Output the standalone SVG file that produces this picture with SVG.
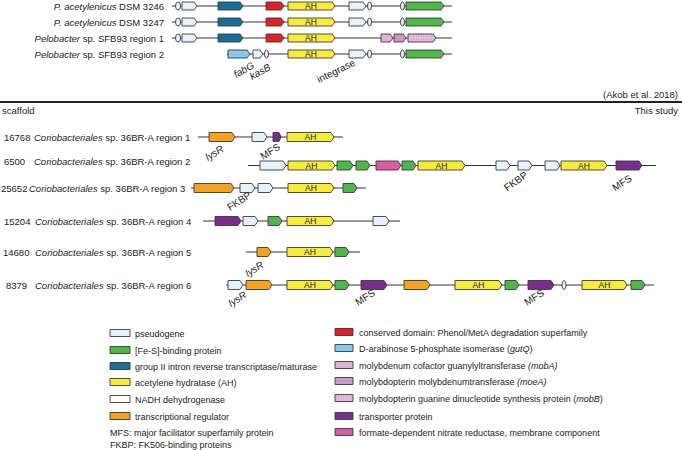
<svg xmlns="http://www.w3.org/2000/svg" width="682" height="450" viewBox="0 0 682 450">
<style>
text{font-family:"Liberation Sans",Arial,sans-serif;fill:#222}
.t{font-size:9.5px}
.it{font-style:italic}
.gl{font-size:10px}
.lg{font-size:9px}
.ahl{font-size:8.5px;text-anchor:middle}
.g{stroke:#3a3a3a;stroke-width:0.9;stroke-linejoin:round}
.bb{stroke:#333;stroke-width:1;fill:none}
.ps{fill:#e4f2fb}.fe{fill:#4db848}.bl{fill:#176f99}.ah{fill:#f8ec3b}.or{fill:#f5a21e}
.rd{fill:#e31e25}.lb{fill:#80cbee}.pu{fill:#7b2d8f}.mg{fill:#dc5ba6}.ma{fill:#ddb4d9}
.mo{fill:url(#stripe)}.mb{fill:url(#dots)}.nd{fill:#fff}
</style>
<defs>
<pattern id="stripe" width="4" height="2.5" patternUnits="userSpaceOnUse"><rect width="4" height="2.5" fill="#d8a9d4"/><line x1="0" y1="0.6" x2="4" y2="0.6" stroke="#9b5f9a" stroke-width="0.6"/></pattern>
<pattern id="dots" width="2.5" height="2.5" patternUnits="userSpaceOnUse"><rect width="2.5" height="2.5" fill="#e8bde3"/><circle cx="1.25" cy="1.25" r="0.45" fill="#a872a6"/></pattern>
</defs>

<!-- Published reference loci -->
<g id="ref-row1" transform="translate(0,6)">
<text class="t" x="164" y="3.5" text-anchor="end"><tspan class="it">P. acetylenicus</tspan> DSM 3246</text>
<line class="bb" x1="172" y1="0" x2="452" y2="0"/>
<ellipse class="g ps" cx="178" cy="0" rx="2.5" ry="4"/>
<polygon class="g ps" points="182,-4 194,-4 197,0 194,4 182,4"/>
<polygon class="g bl" points="218,-4 240,-4 243,0 240,4 218,4"/>
<polygon class="g rd" points="266,-4 281,-4 284,0 281,4 266,4"/>
<polygon class="g ah" points="288,-4 332,-4 335,0 332,4 288,4"/><text class="ahl" x="311" y="3">AH</text>
<polygon class="g ps" points="349,-4 363,-4 366,0 363,4 349,4"/>
<ellipse class="g ps" cx="369.5" cy="0" rx="2" ry="4"/>
<ellipse class="g ps" cx="402.5" cy="0" rx="2" ry="4"/>
<polygon class="g fe" points="406,-4 441,-4 444,0 441,4 406,4"/>
</g>
<g id="ref-row2" transform="translate(0,22)">
<text class="t" x="164" y="3.5" text-anchor="end"><tspan class="it">P. acetylenicus</tspan> DSM 3247</text>
<line class="bb" x1="172" y1="0" x2="452" y2="0"/>
<ellipse class="g ps" cx="178" cy="0" rx="2.5" ry="4"/>
<polygon class="g ps" points="182,-4 194,-4 197,0 194,4 182,4"/>
<polygon class="g bl" points="218,-4 240,-4 243,0 240,4 218,4"/>
<polygon class="g rd" points="266,-4 281,-4 284,0 281,4 266,4"/>
<polygon class="g ah" points="288,-4 332,-4 335,0 332,4 288,4"/><text class="ahl" x="311" y="3">AH</text>
<polygon class="g ps" points="349,-4 363,-4 366,0 363,4 349,4"/>
<ellipse class="g ps" cx="369.5" cy="0" rx="2" ry="4"/>
<ellipse class="g ps" cx="402.5" cy="0" rx="2" ry="4"/>
<polygon class="g fe" points="406,-4 441,-4 444,0 441,4 406,4"/>
</g>
<g id="ref-row3" transform="translate(0,38)">
<text class="t" x="164" y="3.5" text-anchor="end"><tspan class="it">Pelobacter</tspan> sp. SFB93 region 1</text>
<line class="bb" x1="172" y1="0" x2="452" y2="0"/>
<ellipse class="g ps" cx="178" cy="0" rx="2.5" ry="4"/>
<polygon class="g ps" points="182,-4 194,-4 197,0 194,4 182,4"/>
<polygon class="g bl" points="218,-4 240,-4 243,0 240,4 218,4"/>
<polygon class="g rd" points="266,-4 281,-4 284,0 281,4 266,4"/>
<polygon class="g ah" points="288,-4 332,-4 335,0 332,4 288,4"/><text class="ahl" x="311" y="3">AH</text>
<polygon class="g ma" points="381,-4 390,-4 393,0 390,4 381,4"/>
<polygon class="g mo" points="394,-4 403,-4 406,0 403,4 394,4"/>
<polygon class="g mb" points="408,-4 433,-4 436,0 433,4 408,4"/>
</g>
<g id="ref-row4" transform="translate(0,54)">
<text class="t" x="164" y="3.5" text-anchor="end"><tspan class="it">Pelobacter</tspan> sp. SFB93 region 2</text>
<line class="bb" x1="227" y1="0" x2="452" y2="0"/>
<polygon class="g lb" points="228,-4 247,-4 250,0 247,4 228,4"/>
<polygon class="g ps" points="253,-4 260,-4 263,0 260,4 253,4"/>
<ellipse class="g ps" cx="266.5" cy="0" rx="2" ry="4"/>
<polygon class="g ah" points="288,-4 332,-4 335,0 332,4 288,4"/><text class="ahl" x="311" y="3">AH</text>
<polygon class="g ps" points="349,-4 363,-4 366,0 363,4 349,4"/>
<ellipse class="g ps" cx="369.5" cy="0" rx="2" ry="4"/>
<ellipse class="g ps" cx="402.5" cy="0" rx="2" ry="4"/>
<polygon class="g fe" points="406,-4 441,-4 444,0 441,4 406,4"/>
<text class="gl it" transform="translate(236,24) rotate(-29)">fabG</text>
<text class="gl it" transform="translate(252,26) rotate(-29)">kasB</text>
<text class="gl" transform="translate(319,29) rotate(-26)">integrase</text>
</g>

<g id="divider">
<text class="t" x="678" y="97.5" text-anchor="end">(Akob et al. 2018)</text>
<line x1="0" y1="102" x2="682" y2="102" stroke="#222" stroke-width="1.8"/>
<text class="t" x="2" y="113.5">scaffold</text>
<text class="t" x="678" y="113.5" text-anchor="end">This study</text>
</g>

<!-- This study -->
<g id="region1" transform="translate(0,137)">
<text class="t" x="4" y="3.5">16768</text>
<text class="t" x="34" y="3.5"><tspan class="it">Coriobacteriales</tspan> sp. 36BR-A region 1</text>
<line class="bb" x1="198" y1="0" x2="343" y2="0"/>
<polygon class="g or" points="209,-4.5 232,-4.5 235,0 232,4.5 209,4.5"/>
<polygon class="g ps" points="252,-4.5 264,-4.5 267,0 264,4.5 252,4.5"/>
<polygon class="g pu" points="273,-4.5 279,-4.5 281,0 279,4.5 273,4.5"/>
<polygon class="g ah" points="287,-4.5 331,-4.5 334,0 331,4.5 287,4.5"/><text class="ahl" x="310.5" y="3">AH</text>
<text class="gl it" transform="translate(208,24) rotate(-32)">lysR</text>
<text class="gl" transform="translate(263,23) rotate(-32)">MFS</text>
</g>
<g id="region2" transform="translate(0,165.5)">
<text class="t" x="4" y="-1">6500</text>
<text class="t" x="34" y="-1"><tspan class="it">Coriobacteriales</tspan> sp. 36BR-A region 2</text>
<line class="bb" x1="248" y1="0" x2="656" y2="0"/>
<polygon class="g ps" points="260,-4.5 283,-4.5 286,0 283,4.5 260,4.5"/>
<polygon class="g ah" points="288,-4.5 332,-4.5 335,0 332,4.5 288,4.5"/><text class="ahl" x="311.5" y="3">AH</text>
<polygon class="g fe" points="337,-4.5 350,-4.5 353,0 350,4.5 337,4.5"/>
<polygon class="g fe" points="356,-4.5 367,-4.5 370,0 367,4.5 356,4.5"/>
<polygon class="g mg" points="376,-4.5 398,-4.5 401,0 398,4.5 376,4.5"/>
<polygon class="g fe" points="402,-4.5 413,-4.5 416,0 413,4.5 402,4.5"/>
<polygon class="g ah" points="418,-4.5 462,-4.5 465,0 462,4.5 418,4.5"/><text class="ahl" x="441.5" y="3">AH</text>
<polygon class="g ps" points="496,-4.5 507,-4.5 510,0 507,4.5 496,4.5"/>
<polygon class="g ps" points="518,-4.5 529,-4.5 532,0 529,4.5 518,4.5"/>
<polygon class="g ps" points="545,-4.5 557,-4.5 560,0 557,4.5 545,4.5"/>
<polygon class="g ah" points="561,-4.5 604,-4.5 607,0 604,4.5 561,4.5"/><text class="ahl" x="584" y="3">AH</text>
<polygon class="g pu" points="616,-4.5 639,-4.5 642,0 639,4.5 616,4.5"/>
<text class="gl" transform="translate(507,26) rotate(-35)">FKBP</text>
<text class="gl" transform="translate(615,26) rotate(-33)">MFS</text>
</g>
<g id="region3" transform="translate(0,188)">
<text class="t" x="1" y="3.5">25652</text>
<text class="t" x="29" y="3.5"><tspan class="it">Coriobacteriales</tspan> sp. 36BR-A region 3</text>
<line class="bb" x1="191" y1="0" x2="366" y2="0"/>
<polygon class="g or" points="194,-4.5 231,-4.5 234,0 231,4.5 194,4.5"/>
<polygon class="g ps" points="240,-4.5 252,-4.5 255,0 252,4.5 240,4.5"/>
<polygon class="g ps" points="258,-4.5 270,-4.5 273,0 270,4.5 258,4.5"/>
<polygon class="g ah" points="288,-4.5 331,-4.5 334,0 331,4.5 288,4.5"/><text class="ahl" x="311" y="3">AH</text>
<polygon class="g fe" points="343,-4.5 354,-4.5 357,0 354,4.5 343,4.5"/>
<text class="gl" transform="translate(230,23) rotate(-33)">FKBP</text>
</g>
<g id="region4" transform="translate(0,221)">
<text class="t" x="4" y="3.5">15204</text>
<text class="t" x="35" y="3.5"><tspan class="it">Coriobacteriales</tspan> sp. 36BR-A region 4</text>
<line class="bb" x1="203" y1="0" x2="400" y2="0"/>
<polygon class="g pu" points="215,-4.5 238,-4.5 241,0 238,4.5 215,4.5"/>
<polygon class="g ps" points="243,-4.5 255,-4.5 258,0 255,4.5 243,4.5"/>
<polygon class="g fe" points="268,-4.5 279,-4.5 282,0 279,4.5 268,4.5"/>
<polygon class="g ah" points="287,-4.5 331,-4.5 334,0 331,4.5 287,4.5"/><text class="ahl" x="310.5" y="3">AH</text>
<polygon class="g ps" points="373,-4.5 386,-4.5 389,0 386,4.5 373,4.5"/>
</g>
<g id="region5" transform="translate(0,252)">
<text class="t" x="3" y="3.5">14680</text>
<text class="t" x="35" y="3.5"><tspan class="it">Coriobacteriales</tspan> sp. 36BR-A region 5</text>
<line class="bb" x1="246" y1="0" x2="360" y2="0"/>
<polygon class="g or" points="257,-4.5 268,-4.5 271,0 268,4.5 257,4.5"/>
<polygon class="g ah" points="287,-4.5 330,-4.5 333,0 330,4.5 287,4.5"/><text class="ahl" x="310" y="3">AH</text>
<polygon class="g fe" points="335,-4.5 346,-4.5 349,0 346,4.5 335,4.5"/>
</g>
<g id="region6" transform="translate(0,285)">
<text class="t" x="6" y="3.5">8379</text>
<text class="t" x="35" y="3.5"><tspan class="it">Coriobacteriales</tspan> sp. 36BR-A region 6</text>
<line class="bb" x1="226" y1="0" x2="654" y2="0"/>
<polygon class="g ps" points="228,-4.5 240,-4.5 243,0 240,4.5 228,4.5"/>
<polygon class="g or" points="246,-4.5 269,-4.5 272,0 269,4.5 246,4.5"/>
<polygon class="g ah" points="287,-4.5 330,-4.5 333,0 330,4.5 287,4.5"/><text class="ahl" x="310" y="3">AH</text>
<polygon class="g fe" points="335,-4.5 346,-4.5 349,0 346,4.5 335,4.5"/>
<polygon class="g pu" points="361,-4.5 384,-4.5 387,0 384,4.5 361,4.5"/>
<polygon class="g or" points="404,-4.5 427,-4.5 430,0 427,4.5 404,4.5"/>
<polygon class="g ah" points="455,-4.5 499,-4.5 502,0 499,4.5 455,4.5"/><text class="ahl" x="478.5" y="3">AH</text>
<polygon class="g fe" points="505,-4.5 516,-4.5 519,0 516,4.5 505,4.5"/>
<polygon class="g pu" points="528,-4.5 551,-4.5 554,0 551,4.5 528,4.5"/>
<ellipse class="g ps" cx="564" cy="0" rx="2" ry="4.5"/>
<polygon class="g ah" points="582,-4.5 624,-4.5 627,0 624,4.5 582,4.5"/><text class="ahl" x="604.5" y="3">AH</text>
<polygon class="g fe" points="631,-4.5 642,-4.5 645,0 642,4.5 631,4.5"/>
<text class="gl it" transform="translate(248,-8) rotate(-32)">lysR</text>
<text class="gl it" transform="translate(231,22) rotate(-32)">lysR</text>
<text class="gl" transform="translate(358,21) rotate(-32)">MFS</text>
<text class="gl" transform="translate(527,21) rotate(-32)">MFS</text>
</g>

<!-- Legend -->
<g id="legend">
<rect class="g ps" x="110" y="329.5" width="20" height="7"/><text class="lg" x="135" y="336.5">pseudogene</text>
<rect class="g fe" x="110" y="346.5" width="20" height="7"/><text class="lg" x="135" y="353.5">[Fe-S]-binding protein</text>
<rect class="g bl" x="110" y="362.5" width="20" height="7"/><text class="lg" x="135" y="369.5">group II intron reverse transcriptase/maturase</text>
<rect class="g ah" x="110" y="378.5" width="20" height="7"/><text class="lg" x="135" y="385.5">acetylene hydratase (AH)</text>
<rect class="g nd" x="110" y="395.5" width="20" height="7"/><text class="lg" x="135" y="402.5">NADH dehydrogenase</text>
<rect class="g or" x="110" y="412.5" width="20" height="7"/><text class="lg" x="135" y="419.5">transcriptional regulator</text>
<text class="lg" x="110" y="435.5">MFS: major facilitator superfamily protein</text>
<text class="lg" x="110" y="447.5">FKBP: FK506-binding proteins</text>

<rect class="g rd" x="335" y="328.5" width="18" height="7"/><text class="lg" x="359" y="335.5">conserved domain: Phenol/MetA degradation superfamily</text>
<rect class="g lb" x="335" y="344.5" width="18" height="7"/><text class="lg" x="359" y="351.5">D-arabinose 5-phosphate isomerase (<tspan class="it">gutQ</tspan>)</text>
<rect class="g ma" x="335" y="361.5" width="18" height="7"/><text class="lg" x="359" y="368.5">molybdenum cofactor guanylyltransferase <tspan class="it">(mobA)</tspan></text>
<rect class="g mo" x="335" y="377.5" width="18" height="7"/><text class="lg" x="359" y="384.5">molybdopterin molybdenumtransferase <tspan class="it">(moeA)</tspan></text>
<rect class="g mb" x="335" y="394.5" width="18" height="7"/><text class="lg" x="359" y="401.5">molybdopterin guanine dinucleotide synthesis protein (<tspan class="it">mobB</tspan>)</text>
<rect class="g pu" x="335" y="412.5" width="18" height="7"/><text class="lg" x="359" y="419.5">transporter protein</text>
<rect class="g mg" x="335" y="428.5" width="18" height="7"/><text class="lg" x="359" y="435.5">formate-dependent nitrate reductase, membrane component</text>
</g>
</svg>
